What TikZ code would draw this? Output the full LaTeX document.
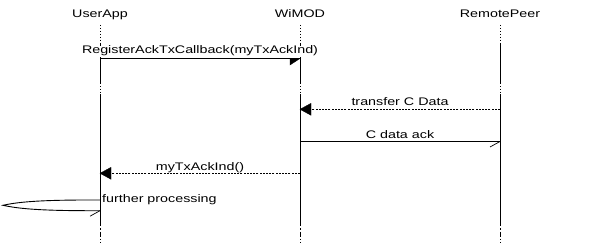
\documentclass[tikz,border=0pt]{standalone}
\usepackage{fontspec}
\setmainfont{Liberation Sans}
\begin{document}
\begin{tikzpicture}[x=1pt,y=-1pt,
  txt/.style={font=\fontsize{11}{13}\selectfont, inner sep=0.5pt, anchor=base},
  msgtext/.style={txt, fill=white},
  lifesolid/.style={line width=0.9pt},
  lifedot/.style={line width=0.9pt, dash pattern=on 1.5pt off 1.5pt},
  lifeend/.style={line width=0.9pt, dash pattern=on 5pt off 2pt on 1.5pt off 2pt},
  msgline/.style={line width=0.9pt},
  msgdot/.style={line width=0.9pt, dash pattern=on 2pt off 1.2pt},
  headfill/.style={fill=black, draw=black, line width=0.3pt},
  halfhead/.style={line width=0.7pt}]
\useasboundingbox (0,0) rectangle (600,243);

% entity heads
\node[txt] (user) at (100,17.5) {\scalebox{1.3}[1]{UserApp}};
\node[txt] (wimod) at (300,17.5) {\scalebox{1.3}[1]{WiMOD}};
\node[txt] (peer) at (500,17.5) {\scalebox{1.3}[1]{RemotePeer}};

% lifelines
\foreach \n/\x in {u/100, w/300, r/500} {
  \coordinate (\n top) at (\x,25);
  \coordinate (\n a) at (\x,44);
  \coordinate (\n b) at (\x,83);
  \coordinate (\n c) at (\x,94);
  \coordinate (\n d) at (\x,221);
  \coordinate (\n end) at (\x,243);
  \draw[lifedot] (\n top) -- (\n a);
  \draw[lifesolid] (\n a) -- (\n b);
  \draw[lifedot] (\n b) -- (\n c);
  \draw[lifesolid] (\n c) -- (\n d);
  \draw[lifeend] (\n d) -- (\n end);
}

% message points on the lifelines
\coordinate (u1) at (100,58.5);  \coordinate (w1) at (300,58.5);
\coordinate (r2) at (500,109.3); \coordinate (w2) at (300,109.3);
\coordinate (w3) at (300,141.5); \coordinate (r3) at (500,141.5);
\coordinate (w4) at (300,173.3); \coordinate (u4) at (100,173.3);
\coordinate (u5) at (100,200);   \coordinate (u5b) at (100,210.7);
\coordinate (loopend) at (3,205.3);

% labels
\node[msgtext] (l1) at (200,54) {\scalebox{1.3}[1]{RegisterAckTxCallback(myTxAckInd)}};
\node[msgtext] (l2) at (400,106) {\scalebox{1.3}[1]{transfer C Data}};
\node[msgtext] (l3) at (400,138.3) {\scalebox{1.3}[1]{C data ack}};
\node[msgtext] (l4) at (200,170.7) {\scalebox{1.3}[1]{myTxAckInd()}};
\node[msgtext, anchor=base west] (l5) at (101.5,202.7) {\scalebox{1.3}[1]{further processing}};

% UserApp -> WiMOD
\draw[msgline] (u1) -- (w1);
\fill[headfill] (w1) -- ++(-10,0) -- ++(0,6.5) -- cycle;

% RemotePeer -> WiMOD
\draw[msgdot] (r2) -- (w2);
\fill[headfill] (w2) -- ++(11,-6) -- ++(0,12) -- cycle;

% WiMOD -> RemotePeer
\draw[msgline] (w3) -- (r3);
\draw[halfhead] (r3) -- ++(-10,5.5);

% WiMOD -> UserApp
\draw[msgdot] (w4) -- (u4);
\fill[headfill] (u4) -- ++(11,-6) -- ++(0,12) -- cycle;

% self message on UserApp: a long narrow loop to the left
\draw[msgline] (u5) .. controls (45,199.8) and (20,201.5) .. (loopend)
               .. controls (20,209.1) and (45,210.9) .. (u5b);
\draw[halfhead] (u5b) -- ++(-10,5.5);
\end{tikzpicture}
\end{document}
